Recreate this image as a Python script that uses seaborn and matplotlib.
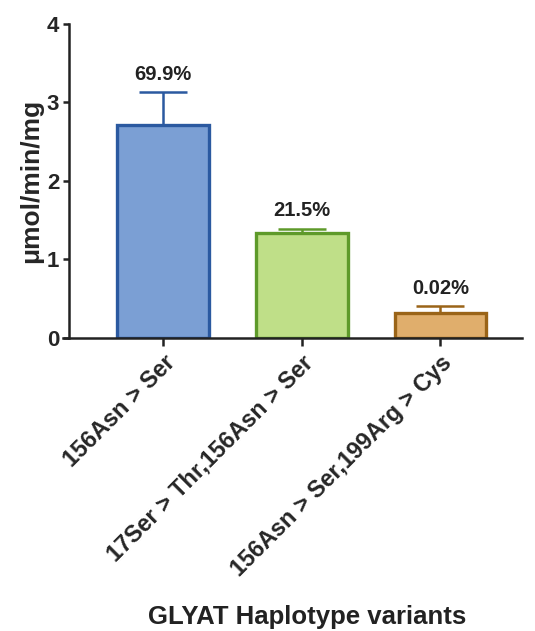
import seaborn as sns
import matplotlib.pyplot as plt
import pandas as pd

# values
variants = ['156Asn > Ser', '17Ser > Thr,156Asn > Ser', '156Asn > Ser,199Arg > Cys']
activity = [2.71, 1.33, 0.31]
error_up = [0.42, 0.06, 0.09]
percent = ['69.9%', '21.5%', '0.02%']

fill_colors = ['#7b9fd4', '#bfdf88', '#e0ae6c']
edge_colors = ['#2b59a0', '#5e9a2a', '#9a6418']

df = pd.DataFrame({'variant': variants, 'activity': activity})

sns.set_style('ticks')
plt.rcParams['font.family'] = ['Liberation Sans', 'DejaVu Sans']
plt.rcParams['font.weight'] = 'bold'

fig = plt.figure(figsize=(5.35, 6.31), dpi=100)
ax = fig.add_axes([0.118, 0.465, 0.858, 0.497])

sns.barplot(data=df, x='variant', y='activity', hue='variant', palette=fill_colors,
            saturation=1, width=0.66, legend=False, ax=ax, zorder=2)

for patch, ec in zip(ax.patches, edge_colors):
    patch.set_edgecolor(ec)
    patch.set_linewidth(2.4)

# upper error bars only
for i in range(len(variants)):
    ax.errorbar(i, activity[i], yerr=[[0], [error_up[i]]], fmt='none',
                ecolor=edge_colors[i], elinewidth=1.8, capsize=17, capthick=1.8, zorder=1)
    ax.annotate(percent[i], (i, activity[i] + error_up[i]), xytext=(0, 6),
                textcoords='offset points', ha='center', va='bottom',
                fontsize=14.5, fontweight='bold', color='#222222')

ax.set_ylim(0, 4)
ax.set_xlim(-0.722, 2.59)
ax.set_yticks([0, 1, 2, 3, 4])
ax.spines['left'].set_position(('data', -0.68))
ax.spines['top'].set_visible(False)
ax.spines['right'].set_visible(False)
for s in ['left', 'bottom']:
    ax.spines[s].set_linewidth(1.8)
    ax.spines[s].set_color('#222222')
ax.tick_params(axis='both', width=1.8, color='#222222')
ax.tick_params(axis='y', length=4, labelsize=16, pad=3)
ax.tick_params(axis='x', length=6)

ax.set_xticks(range(len(variants)))
ax.set_xticklabels(variants, rotation=45, ha='right', rotation_mode='anchor',
                   fontsize=16.8, fontweight='bold')
for lab in ax.get_yticklabels():
    lab.set_fontweight('bold')

ax.set_ylabel('μmol/min/mg', fontsize=19, fontweight='bold', labelpad=3)
ax.set_xlabel('')
fig.text(0.575, 0.022, 'GLYAT Haplotype variants', ha='center', va='center',
         fontsize=18.5, fontweight='bold', color='#222222')

plt.savefig('out.png', dpi=100)
